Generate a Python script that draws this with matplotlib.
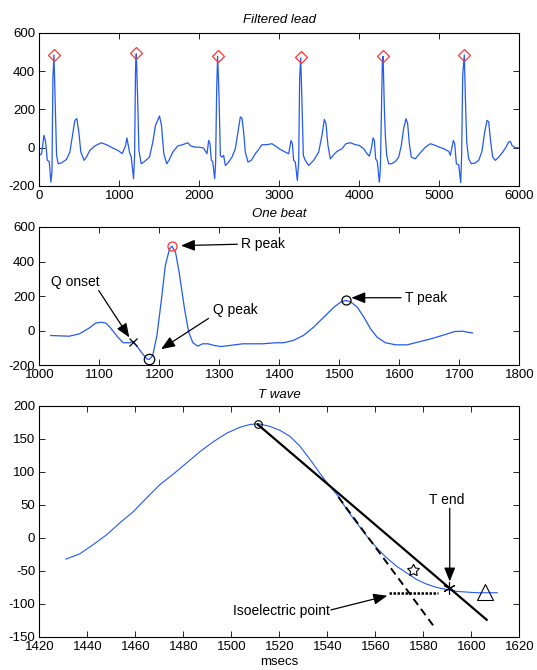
import numpy as np
import matplotlib.pyplot as plt

plt.rcParams['font.family'] = ['Liberation Sans', 'DejaVu Sans']
plt.rcParams['axes.unicode_minus'] = False
plt.rcParams['font.size'] = 9.5

# ---- filtered lead (whole record) ----
lead_t = [0, 29, 58, 79, 100, 124, 145, 158, 170, 183, 199, 216, 236, 278, 340, 382, 415, 444, 469, 494,
          519, 560, 589, 631, 693, 776, 838, 921, 983, 1037, 1079, 1095, 1112, 1129, 1149, 1178, 1191, 1203,
          1212, 1228, 1245, 1274, 1315, 1377, 1419, 1452, 1502, 1527, 1556, 1593, 1626, 1668, 1730, 1792,
          1855, 1896, 1950,
          2000, 2054, 2096, 2117, 2133, 2150, 2167, 2192, 2204, 2217, 2229, 2246, 2263, 2283, 2304, 2325,
          2367, 2408, 2450, 2483, 2513, 2533, 2554, 2575, 2608, 2650, 2700, 2742, 2783, 2846, 2908, 2950,
          3013, 3075, 3117, 3146, 3163, 3179, 3200, 3225, 3242, 3254, 3267, 3283, 3300, 3325, 3367, 3429,
          3492, 3533, 3563, 3583, 3608, 3638, 3679, 3721, 3783, 3833, 3888, 3950,
          4000, 4054, 4096, 4125, 4150, 4171, 4188, 4204, 4225, 4250, 4263, 4275, 4288, 4297, 4313, 4325,
          4342, 4367, 4400, 4450, 4492, 4525, 4554, 4583, 4604, 4625, 4650, 4700, 4763, 4825, 4888, 4950,
          5000, 5054, 5117, 5138, 5158, 5175, 5192, 5213, 5242, 5267, 5279, 5292, 5312, 5325, 5342, 5367,
          5400, 5450, 5492, 5533, 5567, 5596, 5617, 5642, 5667, 5700, 5742, 5792, 5833, 5867, 5888, 5908,
          5950, 6000]
lead_v = [-40, -31, 65, 30, -66, -72, -180, -128, 362, 485, 222, -40, -84, -79, -61, -23, 65, 143, 152, 82,
          -23, -66, -49, -14, 9, 26, 16, -2, -14, -31, 12, 51, 12, -26, -49, -162, -40, 414,
          491, 274, -14, -84, -72, -49, 30, 117, 166, 117, -31, -84, -61, -23, 9, 16,
          26, 9, 3,
          3, -2, -31, 38, 21, -66, -72, -162, -75, 309, 478, 274, -40, -49, -40, -93,
          -75, -49, -5, 82, 161, 155, 82, -23, -75, -66, -31, -9, 16, 16, 21, 9,
          -9, -23, -31, 38, 21, -66, -75, -171, -75, 362, 470, 239, -40, -66, -93, -66,
          -23, 65, 148, 126, 12, -58, -37, -19, -5, 21, 26, 16,
          12, -5, -31, -44, -5, 51, 38, -58, -72, -180, -110, 152, 449, 478, 204, 65,
          -40, -84, -84, -72, -49, 12, 100, 152, 126, 21, -49, -58, -26, 3, 21, 12,
          3, -5, -19, -40, 3, 38, 21, -84, -89, -183, -40, 379, 485, 274, 30, -58,
          -84, -79, -66, -19, 82, 143, 135, 30, -49, -66, -49, -23, 3, 30, 33, 12,
          0, 0]
r_t = [183, 1212, 2229, 3267, 4297, 5312]
r_v = [487, 493, 480, 472, 480, 487]

# ---- one beat ----
beat_t = [1019, 1050, 1067, 1083, 1094, 1103, 1111, 1119, 1131, 1140, 1150, 1156, 1164, 1172, 1179, 1183,
          1189, 1196, 1203, 1210, 1217, 1221, 1227, 1233, 1242, 1249, 1256, 1264, 1272, 1281, 1292, 1303,
          1317, 1339, 1372, 1394, 1407, 1423, 1440, 1457, 1474, 1491, 1502, 1510, 1518, 1530, 1541, 1552,
          1563, 1577, 1594, 1613, 1630, 1653, 1675, 1692, 1706, 1714, 1722]
beat_v = [-29, -33, -19, 14, 43, 48, 43, 14, -39, -71, -71, -64, -97, -135, -164, -168,
          -145, -29, 164, 377, 473, 489, 454, 338, 126, -10, -71, -91, -77, -77, -87, -93,
          -87, -77, -77, -71, -71, -58, -29, 19, 77, 135, 164, 174, 168, 135, 77, 10,
          -39, -71, -83, -83, -68, -48, -25, -6, -4, -10, -14]
q_onset = (1156, -64)
q_peak = (1183, -168)
r_peak = (1221, 490)
t_peak = (1511, 175)

# ---- T wave ----
tw_t = [1431.1, 1436.9, 1442.5, 1448.1, 1453.6, 1459.2, 1464.8, 1470.3, 1475.9, 1481.5, 1487.0, 1492.6,
        1498.2, 1503.8, 1507.9, 1511.4, 1516.1, 1520.3, 1524.4, 1528.6, 1532.8, 1536.9, 1541.1, 1544.6,
        1548.1, 1552.2, 1556.4, 1560.6, 1564.7, 1568.9, 1573.1, 1577.2, 1581.4, 1585.6, 1589.7, 1593.9,
        1598.1, 1602.2, 1606.4, 1610.8]
tw_v = [-32, -24, -10, 5, 23, 40, 61, 81, 97, 114, 131, 146,
        159, 168, 172, 173, 169, 163, 154, 139, 119, 98, 78, 63,
        43, 23, 3, -15, -30, -43, -53, -63, -70, -75, -78, -81,
        -82, -83, -83, -83]
tw_peak = (1511, 172)
tangent_t = [1511, 1606.4]
tangent_v = [172, -124]
slope_t = [1544.6, 1584.6]
slope_v = [62, -135]
iso_t = [1565.5, 1586]
iso_v = [-84, -84]
star_pt = (1575.6, -49)
tend_pt = (1590.7, -76)
tri_pt = (1605.7, -82)

blue = '#2459f2'
arrow = dict(arrowstyle='-|>,head_length=0.7,head_width=0.28', color='k', lw=0.9,
             shrinkA=0, shrinkB=0, mutation_scale=12)

fig = plt.figure(figsize=(5.37, 6.70), dpi=100)
L, W = 0.0732, 0.8939
ax1 = fig.add_axes([L, 0.7224, W, 0.2284])
ax2 = fig.add_axes([L, 0.4552, W, 0.2060])
ax3 = fig.add_axes([L, 0.0493, W, 0.3448])

for ax in (ax1, ax2, ax3):
    ax.tick_params(direction='in', top=True, right=True, length=4, width=0.6, pad=3,
                   labelsize=9.5, colors='k')
    for s in ax.spines.values():
        s.set_linewidth(0.8)

# top
ax1.plot(lead_t, lead_v, color=blue, lw=0.9)
ax1.plot(r_t, r_v, 'D', mfc='none', mec='#ff3333', ms=6, mew=0.9)
ax1.set_xlim(0, 6000)
ax1.set_ylim(-200, 600)
ax1.set_xticks([0, 1000, 2000, 3000, 4000, 5000, 6000])
ax1.set_yticks([-200, 0, 200, 400, 600])
ax1.set_title('Filtered lead', style='italic', fontsize=9.5, pad=7)

# middle
ax2.plot(beat_t, beat_v, color=blue, lw=0.9)
ax2.plot(*q_onset, 'x', color='k', ms=6, mew=0.9)
ax2.plot(*q_peak, 'o', mfc='none', mec='k', ms=7.5, mew=0.9)
ax2.plot(*r_peak, 'o', mfc='none', mec='#ff3333', ms=6.5, mew=0.9)
ax2.plot(*t_peak, 'o', mfc='none', mec='k', ms=6.5, mew=0.9)
ax2.set_xlim(1000, 1800)
ax2.set_ylim(-200, 600)
ax2.set_xticks(range(1000, 1801, 100))
ax2.set_yticks([-200, 0, 200, 400, 600])
ax2.set_title('One beat', style='italic', fontsize=9.5, pad=7)

ax2.text(1336, 503, 'R peak', ha='left', va='center', fontsize=10)
ax2.annotate('', xy=(1236, 492), xytext=(1330, 500), arrowprops=arrow)
ax2.text(1019, 282, 'Q onset', ha='left', va='center', fontsize=10)
ax2.annotate('', xy=(1150, -40), xytext=(1099, 232), arrowprops=arrow)
ax2.text(1289, 120, 'Q peak', ha='left', va='center', fontsize=10)
ax2.annotate('', xy=(1203, -108), xytext=(1282, 70), arrowprops=arrow)
ax2.text(1610, 190, 'T peak', ha='left', va='center', fontsize=10)
ax2.annotate('', xy=(1520, 190), xytext=(1603, 190), arrowprops=arrow)

# bottom
ax3.plot(tw_t, tw_v, color=blue, lw=0.8)
ax3.plot(tangent_t, tangent_v, color='k', lw=1.6)
ax3.plot(slope_t, slope_v, color='k', lw=1.4, ls=(0, (4, 2.5)))
ax3.plot(iso_t, iso_v, color='k', lw=1.8, ls=(0, (1, 0.6)))
ax3.plot(*tw_peak, 'o', mfc='none', mec='k', ms=5.5, mew=0.8)
ax3.plot(*star_pt, marker=(5, 1, 0), mfc='none', mec='k', ms=9, mew=0.8)
ax3.plot(*tend_pt, marker=(6, 2, 0), color='k', ms=9, mew=0.8)
ax3.plot(*tri_pt, '^', mfc='none', mec='k', ms=11, mew=0.8)
ax3.set_xlim(1420, 1620)
ax3.set_ylim(-150, 200)
ax3.set_xticks(range(1420, 1621, 20))
ax3.set_yticks(range(-150, 201, 50))
ax3.set_title('T wave', style='italic', fontsize=9.5, pad=6)
ax3.set_xlabel('msecs', fontsize=9.5, labelpad=2)

ax3.text(1589.7, 57, 'T end', ha='center', va='center', fontsize=10)
ax3.annotate('', xy=(1591, -66), xytext=(1591, 45), arrowprops=arrow)
ax3.text(1541, -110, 'Isoelectric point', ha='right', va='center', fontsize=10)
ax3.annotate('', xy=(1565, -87.5), xytext=(1541.5, -109), arrowprops=arrow)

fig.savefig('out.png', dpi=100)
